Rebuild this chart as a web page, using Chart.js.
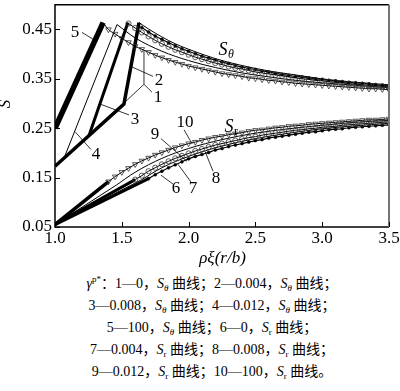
<!DOCTYPE html>
<html>
<head>
<meta charset="utf-8">
<script src="https://cdn.jsdelivr.net/npm/chart.js@4.4.1/dist/chart.umd.min.js"></script>
<style>
  html, body { margin: 0; padding: 0; background: #fff; overflow: hidden; }
  #wrap { position: relative; width: 400px; height: 391px; }
  #chart { position: absolute; left: 0; top: 0; }
  .cap {
    position: absolute; left: 0; top: 272px; width: 400px; padding-left: 24px; box-sizing: border-box;
    text-align: center; color: #000; white-space: nowrap;
    font-family: "Liberation Serif", "DejaVu Serif", "Noto Sans CJK SC", serif; font-size: 14px; line-height: 21px;
  }
  .cap sub { font-size: 9px; vertical-align: -3px; line-height: 0; }
  .cap sup { font-size: 9px; vertical-align: 6px; line-height: 0; }
  .zh { font-family: "Noto Sans CJK SC", sans-serif; }
</style>
</head>
<body>
<div id="wrap">
  <canvas id="chart" width="400" height="270"></canvas>
  <div class="cap">
    <div><i>γ</i><sup>p*</sup><span class="zh">：</span>1—0<span class="zh">，</span><i>S</i><sub><i>θ</i></sub> <span class="zh">曲线；</span>2—0.004<span class="zh">，</span><i>S</i><sub><i>θ</i></sub> <span class="zh">曲线；</span></div>
    <div>3—0.008<span class="zh">，</span><i>S</i><sub><i>θ</i></sub> <span class="zh">曲线；</span>4—0.012<span class="zh">，</span><i>S</i><sub><i>θ</i></sub> <span class="zh">曲线；</span></div>
    <div>5—100<span class="zh">，</span><i>S</i><sub><i>θ</i></sub> <span class="zh">曲线；</span>6—0<span class="zh">，</span><i>S</i><sub>r</sub> <span class="zh">曲线；</span></div>
    <div>7—0.004<span class="zh">，</span><i>S</i><sub>r</sub> <span class="zh">曲线；</span>8—0.008<span class="zh">，</span><i>S</i><sub>r</sub> <span class="zh">曲线；</span></div>
    <div>9—0.012<span class="zh">，</span><i>S</i><sub>r</sub> <span class="zh">曲线；</span>10—100<span class="zh">，</span><i>S</i><sub>r</sub> <span class="zh">曲线。</span></div>
  </div>
</div>
<script>
// axis ticks
const xTicks = [1.0, 1.5, 2.0, 2.5, 3.0, 3.5];
const yTicks = [0.05, 0.15, 0.25, 0.35, 0.45];

// rho values where the markers sit
const rhoGrid = [1.40, 1.45, 1.50, 1.55, 1.60, 1.65, 1.70, 1.75, 1.80, 1.85, 1.90, 1.95, 2.00, 2.05, 2.10,
  2.15, 2.20, 2.25, 2.30, 2.35, 2.40, 2.45, 2.50, 2.55, 2.60, 2.65, 2.70, 2.75, 2.80, 2.85, 2.90, 2.95,
  3.00, 3.05, 3.10, 3.15, 3.20, 3.25, 3.30, 3.35, 3.40, 3.45, 3.50];

// S_theta, plastic zone
const thP5x = [1.0, 1.36], thP5y = [0.250, 0.464];
const thP4x = [1.067, 1.464], thP4y = [0.189, 0.460];
const thP3x = [1.254, 1.546], thP3y = [0.235, 0.464];
const thP1x = [1.0, 1.516, 1.629], thP1y = [0.173, 0.299, 0.464];

// S_theta, elastic zone
const thTriX = [1.36].concat(rhoGrid);
const thTriY = [0.464, 0.450, 0.441, 0.432, 0.424, 0.416, 0.410, 0.404, 0.398, 0.393, 0.388, 0.384, 0.380,
  0.376, 0.373, 0.370, 0.367, 0.364, 0.361, 0.359, 0.357, 0.355, 0.352, 0.351, 0.349, 0.347, 0.346, 0.344,
  0.343, 0.341, 0.340, 0.339, 0.338, 0.337, 0.336, 0.335, 0.334, 0.333, 0.332, 0.331, 0.330, 0.330, 0.329, 0.328];
const thL4x = [1.464, 1.6, 1.8, 2.0, 2.2, 2.4, 2.6, 2.8, 3.0, 3.25, 3.5];
const thL4y = [0.460, 0.433, 0.406, 0.387, 0.373, 0.362, 0.354, 0.347, 0.342, 0.337, 0.332];
const thCirX = rhoGrid.slice(3);
const thCirY = [0.462, 0.453, 0.444, 0.436, 0.428, 0.421, 0.415, 0.409, 0.404, 0.399, 0.394, 0.390, 0.386,
  0.382, 0.379, 0.375, 0.372, 0.370, 0.367, 0.364, 0.362, 0.360, 0.358, 0.356, 0.354, 0.352, 0.350, 0.349,
  0.347, 0.346, 0.344, 0.343, 0.342, 0.340, 0.339, 0.338, 0.337, 0.336, 0.335, 0.334];
const thDotX = rhoGrid.slice(5);
const thDotY = [0.454, 0.445, 0.437, 0.430, 0.423, 0.417, 0.411, 0.406, 0.401, 0.396, 0.392, 0.388, 0.384,
  0.381, 0.377, 0.374, 0.371, 0.369, 0.366, 0.364, 0.361, 0.359, 0.357, 0.355, 0.354, 0.352, 0.350, 0.349,
  0.347, 0.346, 0.344, 0.343, 0.342, 0.341, 0.340, 0.338, 0.337, 0.337];
const thTopX = [1.629, 1.7, 1.8, 1.9, 2.0, 2.2, 2.4, 2.6, 2.8, 3.0, 3.25, 3.5];
const thTopY = [0.464, 0.451, 0.435, 0.421, 0.410, 0.391, 0.377, 0.366, 0.358, 0.350, 0.343, 0.338];

// S_r, plastic zone
const rP10x = [1.0, 1.40], rP10y = [0.055, 0.142];
const rP9x = [1.0, 1.46], rP9y = [0.055, 0.135];
const rP8x = [1.0, 1.60], rP8y = [0.055, 0.146];
const rP7x = [1.0, 1.65], rP7y = [0.055, 0.146];
const rP6x = [1.0, 1.70], rP6y = [0.055, 0.148];

// S_r, elastic zone
const rTriX = rhoGrid;
const rTriY = [0.142, 0.152, 0.161, 0.169, 0.177, 0.184, 0.190, 0.196, 0.201, 0.206, 0.211, 0.215, 0.219,
  0.222, 0.226, 0.229, 0.232, 0.234, 0.237, 0.239, 0.241, 0.244, 0.246, 0.247, 0.249, 0.251, 0.252, 0.254,
  0.255, 0.256, 0.258, 0.259, 0.260, 0.261, 0.262, 0.263, 0.264, 0.265, 0.266, 0.267, 0.267, 0.268, 0.269];
const rL9x = [1.46, 1.6, 1.8, 2.0, 2.25, 2.5, 2.75, 3.0, 3.25, 3.5];
const rL9y = [0.135, 0.161, 0.189, 0.209, 0.227, 0.240, 0.249, 0.256, 0.262, 0.266];
const rCirX = rhoGrid.slice(4);
const rCirY = [0.146, 0.154, 0.163, 0.170, 0.177, 0.183, 0.189, 0.194, 0.199, 0.204, 0.208, 0.212, 0.216,
  0.219, 0.222, 0.225, 0.228, 0.231, 0.233, 0.236, 0.238, 0.240, 0.242, 0.244, 0.246, 0.247, 0.249, 0.250,
  0.252, 0.253, 0.254, 0.256, 0.257, 0.258, 0.259, 0.260, 0.261, 0.262, 0.263];
const rL7x = [1.65, 1.8, 2.0, 2.25, 2.5, 2.75, 3.0, 3.25, 3.5];
const rL7y = [0.146, 0.170, 0.193, 0.214, 0.229, 0.240, 0.249, 0.255, 0.260];
const rDotX = rhoGrid.slice(6);
const rDotY = [0.148, 0.156, 0.163, 0.170, 0.176, 0.182, 0.188, 0.193, 0.197, 0.201, 0.206, 0.209, 0.213,
  0.216, 0.219, 0.222, 0.225, 0.227, 0.230, 0.232, 0.234, 0.236, 0.238, 0.240, 0.242, 0.243, 0.245, 0.247,
  0.248, 0.249, 0.251, 0.252, 0.253, 0.254, 0.255, 0.256, 0.257];

// curve numbers with leader lines, in data units
const curveNotes = [
  { text: '5', at: [1.150, 0.444], leaders: [[1.202, 0.444, 1.299, 0.428]] },
  { text: '2', at: [1.778, 0.347], leaders: [[1.734, 0.355, 1.569, 0.375]] },
  { text: '1', at: [1.771, 0.313], leaders: [[1.726, 0.323, 1.666, 0.339], [1.666, 0.339, 1.524, 0.303], [1.666, 0.339, 1.666, 0.408]] },
  { text: '3', at: [1.599, 0.267], leaders: [[1.554, 0.277, 1.337, 0.299]] },
  { text: '4', at: [1.307, 0.197], leaders: [[1.269, 0.207, 1.150, 0.243]] },
  { text: '9', at: [1.749, 0.237], leaders: [[1.793, 0.229, 1.988, 0.183]] },
  { text: '10', at: [1.973, 0.261], leaders: [[1.966, 0.247, 2.025, 0.219]] },
  { text: '6', at: [1.906, 0.127], leaders: [[1.883, 0.137, 1.793, 0.155]] },
  { text: '7', at: [2.033, 0.127], leaders: [[2.018, 0.141, 1.921, 0.177]] },
  { text: '8', at: [2.205, 0.149], leaders: [[2.183, 0.163, 2.123, 0.203]] }
];
const groupNotes = [
  { sub: 'θ', italicSub: true, at: [2.257, 0.408] },
  { sub: 'r', italicSub: false, at: [2.302, 0.252] }
];

const pts = (xs, ys) => xs.map((x, i) => ({ x: x, y: ys[i] }));

function plastic(xs, ys, width) {
  return { data: pts(xs, ys), showLine: true, borderColor: '#000', borderWidth: width, pointRadius: 0, tension: 0 };
}
function elastic(xs, ys, marker) {
  const ds = { data: pts(xs, ys), showLine: true, borderColor: '#000', borderWidth: 1, pointRadius: 0,
    cubicInterpolationMode: 'monotone' };
  if (marker === 'tri') {
    Object.assign(ds, { pointStyle: 'triangle', rotation: 180, pointBorderColor: '#333', pointBorderWidth: 0.8,
      pointBackgroundColor: 'rgba(255,255,255,0)', pointRadius: ctx => (xs[ctx.dataIndex] < 1.38 ? 0 : 3.2) });
  } else if (marker === 'circle') {
    Object.assign(ds, { pointStyle: 'circle', pointRadius: 2.6, pointBorderColor: '#333', pointBorderWidth: 0.8,
      pointBackgroundColor: 'rgba(255,255,255,0)' });
  } else if (marker === 'dot') {
    Object.assign(ds, { pointStyle: 'circle', pointRadius: 1.5, pointBorderColor: '#000', pointBorderWidth: 0.5,
      pointBackgroundColor: '#000', borderWidth: 1.2 });
  }
  return ds;
}

const serif = '"Liberation Serif", "DejaVu Serif", serif';
Chart.defaults.font.family = serif;
Chart.defaults.font.size = 17;
Chart.defaults.color = '#000';

const decor = {
  id: 'decor',
  afterDraw(chart) {
    const { ctx, chartArea: a, scales } = chart;
    const X = v => scales.x.getPixelForValue(v);
    const Y = v => scales.y.getPixelForValue(v);
    ctx.save();

    // frame
    ctx.strokeStyle = '#000';
    ctx.lineWidth = 1.5;
    ctx.beginPath();
    ctx.moveTo(a.right, a.top);
    ctx.lineTo(a.left, a.top);
    ctx.lineTo(a.left, a.bottom);
    ctx.lineTo(a.right, a.bottom);
    ctx.stroke();
    ctx.strokeStyle = '#777';
    ctx.lineWidth = 2;
    ctx.beginPath();
    ctx.moveTo(a.right, a.top);
    ctx.lineTo(a.right, a.bottom);
    ctx.stroke();

    // inward ticks
    ctx.strokeStyle = '#000';
    ctx.lineWidth = 1;
    ctx.beginPath();
    xTicks.forEach(v => { const p = Math.round(X(v)) + 0.5; ctx.moveTo(p, a.bottom); ctx.lineTo(p, a.bottom - 5); });
    yTicks.forEach(v => { const p = Math.round(Y(v)) + 0.5; ctx.moveTo(a.left, p); ctx.lineTo(a.left + 5, p); });
    ctx.stroke();

    // leaders and curve numbers
    ctx.lineWidth = 0.8;
    ctx.beginPath();
    curveNotes.forEach(n => n.leaders.forEach(l => { ctx.moveTo(X(l[0]), Y(l[1])); ctx.lineTo(X(l[2]), Y(l[3])); }));
    ctx.stroke();
    ctx.fillStyle = '#000';
    ctx.font = '17px ' + serif;
    ctx.textAlign = 'center';
    ctx.textBaseline = 'middle';
    curveNotes.forEach(n => ctx.fillText(n.text, X(n.at[0]), Y(n.at[1])));

    // S_theta / S_r group labels
    groupNotes.forEach(g => {
      const gx = X(g.at[0]), gy = Y(g.at[1]);
      ctx.font = 'italic 18px ' + serif;
      ctx.textAlign = 'center';
      ctx.fillText('S', gx, gy);
      ctx.font = (g.italicSub ? 'italic ' : '') + '12px ' + serif;
      ctx.textAlign = 'left';
      ctx.fillText(g.sub, gx + 5, gy + 5);
    });

    // axis titles
    ctx.font = 'italic 17px ' + serif;
    ctx.textAlign = 'center';
    ctx.fillText('ρξ(r/b)', (a.left + a.right) / 2 + 0.5, 259);
    ctx.translate(6, 104);
    ctx.rotate(-Math.PI / 2);
    ctx.fillText('S', 0, 0);
    ctx.restore();
  }
};

new Chart(document.getElementById('chart'), {
  type: 'scatter',
  data: {
    datasets: [
      elastic(thTriX, thTriY, 'tri'),
      elastic(thCirX, thCirY, 'circle'),
      elastic(thDotX, thDotY, 'dot'),
      elastic(thL4x, thL4y, null),
      elastic(thTopX, thTopY, null),
      plastic(thP5x, thP5y, 5.5),
      plastic(thP4x, thP4y, 1),
      plastic(thP3x, thP3y, 3),
      plastic(thP1x, thP1y, 3.5),
      elastic(rTriX, rTriY, 'tri'),
      elastic(rCirX, rCirY, 'circle'),
      elastic(rDotX, rDotY, 'dot'),
      elastic(rL9x, rL9y, null),
      elastic(rL7x, rL7y, null),
      plastic(rP10x, rP10y, 3.5),
      plastic(rP9x, rP9y, 1),
      plastic(rP8x, rP8y, 3),
      plastic(rP7x, rP7y, 1),
      plastic(rP6x, rP6y, 3)
    ]
  },
  options: {
    responsive: false,
    animation: false,
    devicePixelRatio: 1,
    layout: { padding: { top: 1, right: 11, left: 0, bottom: 0 } },
    plugins: { legend: { display: false }, tooltip: { enabled: false } },
    scales: {
      x: {
        type: 'linear', min: 1.0, max: 3.5,
        grid: { display: false, drawTicks: false },
        border: { display: false },
        afterBuildTicks: s => { s.ticks = xTicks.map(v => ({ value: v })); },
        afterFit: s => { s.height = 43; s.paddingLeft = 0; s.paddingRight = 0; },
        ticks: { padding: 1, autoSkip: false, maxRotation: 0, callback: v => v.toFixed(1) }
      },
      y: {
        type: 'linear', min: 0.05, max: 0.5,
        grid: { display: false, drawTicks: false },
        border: { display: false },
        afterBuildTicks: s => { s.ticks = yTicks.map(v => ({ value: v })); },
        afterFit: s => { s.width = 55; s.paddingTop = 0; s.paddingBottom = 0; },
        ticks: { padding: 3, autoSkip: false, callback: v => v.toFixed(2) }
      }
    }
  },
  plugins: [decor]
});
</script>
</body>
</html>
